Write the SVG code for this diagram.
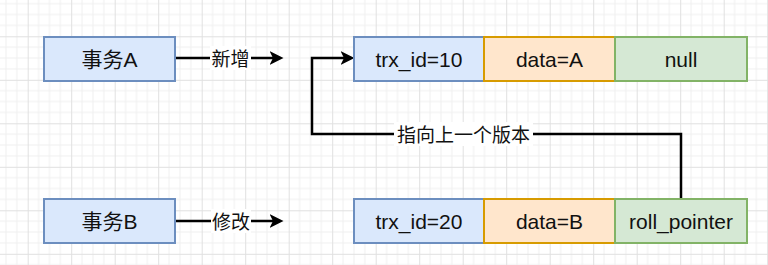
<svg xmlns="http://www.w3.org/2000/svg" width="768" height="265" viewBox="0 0 768 265">
<defs>
<pattern id="grid" width="43.5" height="43.5" patternUnits="userSpaceOnUse" x="27.7" y="36.3">
<path d="M10.875 0V43.5M21.75 0V43.5M32.625 0V43.5M0 10.875H43.5M0 21.75H43.5M0 32.625H43.5" stroke="#efefef" stroke-width="1" fill="none"/>
<path d="M0.5 0V43.5M0 0.5H43.5" stroke="#e0e0e0" stroke-width="1" fill="none"/>
</pattern>
<marker id="arr" markerUnits="userSpaceOnUse" markerWidth="14" markerHeight="14" viewBox="0 0 12 12" refX="3" refY="6" orient="auto">
<path d="M0 0L12 6L0 12L3 6Z" fill="#000"/>
</marker>
<style>
.blue{fill:#dae8fc;stroke:#6c8ebf;stroke-width:2}
.orange{fill:#ffe6cc;stroke:#d79b00;stroke-width:2}
.green{fill:#d5e8d4;stroke:#82b366;stroke-width:2}
.t{font-family:"Liberation Sans","Noto Sans CJK SC",sans-serif;font-size:21px;fill:#111;text-anchor:middle}
.lbl{font-family:"Liberation Sans","Noto Sans CJK SC",sans-serif;font-size:19px;fill:#111;text-anchor:middle}
.edge{fill:none;stroke:#000;stroke-width:2.5}
.lblbg{fill:#fff}
</style>
</defs>
<rect width="768" height="265" fill="#fff"/>
<rect width="768" height="265" fill="url(#grid)"/>

<g id="connectors">
<path class="edge" d="M176 58H273" marker-end="url(#arr)"/>
<path class="edge" d="M176 221H273" marker-end="url(#arr)"/>
<path class="edge" d="M681 198V134H312V58H344" marker-end="url(#arr)"/>
<rect class="lblbg" x="210" y="46" width="41" height="24"/>
<text class="lbl" x="230.5" y="65.5">新增</text>
<rect class="lblbg" x="211" y="209" width="40" height="24"/>
<text class="lbl" x="231" y="228.5">修改</text>
<rect class="lblbg" x="394" y="122" width="139" height="24"/>
<text class="lbl" x="463.5" y="141.5">指向上一个版本</text>
</g>

<g id="txA">
<rect class="blue" x="44" y="37" width="131" height="44"/>
<text class="t" x="109.5" y="66.5">事务A</text>
</g>
<g id="txB">
<rect class="blue" x="44" y="199" width="131" height="44"/>
<text class="t" x="109.5" y="228.5">事务B</text>
</g>

<g id="rowA-trx">
<rect class="blue" x="354" y="37" width="130" height="44"/>
<text class="t" x="419" y="66.5">trx_id=10</text>
</g>
<g id="rowA-data">
<rect class="orange" x="484" y="37" width="131" height="44"/>
<text class="t" x="549.5" y="66.5">data=A</text>
</g>
<g id="rowA-ptr">
<rect class="green" x="615" y="37" width="132" height="44"/>
<text class="t" x="681" y="66.5">null</text>
</g>

<g id="rowB-trx">
<rect class="blue" x="354" y="199" width="130" height="44"/>
<text class="t" x="419" y="228.5">trx_id=20</text>
</g>
<g id="rowB-data">
<rect class="orange" x="484" y="199" width="131" height="44"/>
<text class="t" x="549.5" y="228.5">data=B</text>
</g>
<g id="rowB-ptr">
<rect class="green" x="615" y="199" width="132" height="44"/>
<text class="t" x="681" y="228.5">roll_pointer</text>
</g>
</svg>
